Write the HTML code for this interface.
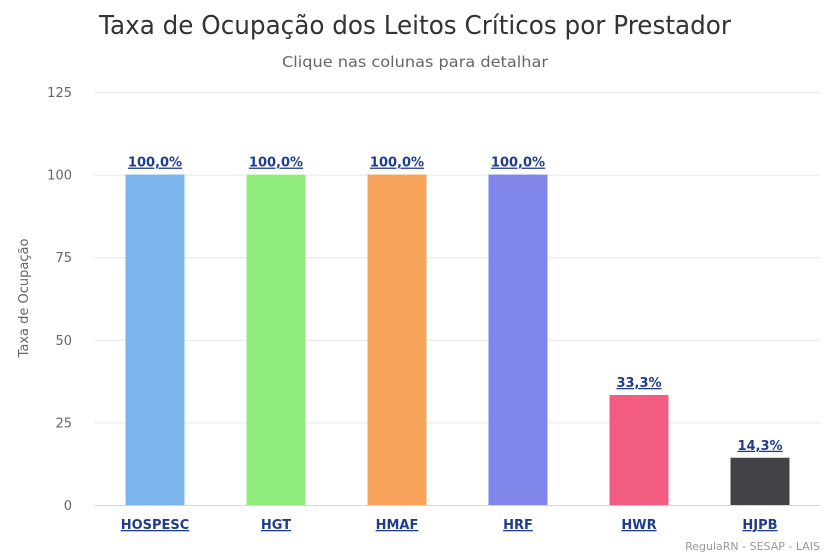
<!DOCTYPE html>
<html><head><meta charset="utf-8"><style>
html,body{margin:0;padding:0;background:#fff;}
svg{display:block;font-family:"DejaVu Sans","Liberation Sans",sans-serif;}
.lbl{cursor:pointer;}
</style></head><body>
<svg id="chart" width="828" height="555" viewBox="0 0 828 555" xmlns="http://www.w3.org/2000/svg">
<text x="415" y="34" text-anchor="middle" font-size="26" fill="#333" textLength="632" lengthAdjust="spacingAndGlyphs">Taxa de Ocupação dos Leitos Críticos por Prestador</text>
<text x="415" y="67" text-anchor="middle" font-size="15" fill="#666" textLength="266" lengthAdjust="spacingAndGlyphs">Clique nas colunas para detalhar</text>
<text transform="translate(28,298) rotate(-90)" text-anchor="middle" font-size="13" fill="#666">Taxa de Ocupação</text>
<g id="grid"></g><g id="bars"></g><g id="xlabels"></g>
<text x="820" y="550" text-anchor="end" font-size="11" fill="#999">RegulaRN - SESAP - LAIS</text>
</svg>
<script>
const categories=["HOSPESC","HGT","HMAF","HRF","HWR","HJPB"];
const values=[100,100,100,100,33.3,14.3];
const valueLabels=["100,0%","100,0%","100,0%","100,0%","33,3%","14,3%"];
const yTicks=[0,25,50,75,100,125];
const colors=["#7cb5ec","#90ed7d","#f7a35c","#8085e9","#f15c80","#434348"];
const NS="http://www.w3.org/2000/svg";
const x0=94.5,x1=820.5,yBase=505,yTop=92,yMax=125;
const band=(x1-x0)/categories.length;
function y(v){return yBase-(v/yMax)*(yBase-yTop);}
function xc(i){return x0+band*(i+0.5);}
function mk(t,a,p){const e=document.createElementNS(NS,t);for(const k in a)e.setAttribute(k,a[k]);p.appendChild(e);return e;}
const grid=document.getElementById('grid');
yTicks.forEach(t=>{
 const l=mk('line',{x1:x0,x2:x1,y1:y(t)+0.5,y2:y(t)+0.5,stroke:t===0?'#ccd6eb':'#e6e6e6','stroke-width':1},grid);
 
 
 const tx=mk('text',{x:72,y:y(t)+5,'text-anchor':'end','font-size':13,fill:'#666'},grid);
 tx.textContent=t;
 
 
});
const bars=document.getElementById('bars'),xl=document.getElementById('xlabels');
categories.forEach((c,i)=>{
 const w=59,cx=xc(i);
 const r=mk('rect',{x:cx-w/2,y:y(values[i]),width:w,height:yBase-y(values[i]),fill:colors[i],class:'lbl'},bars);
 
 
 const v=mk('text',{x:cx,y:y(values[i])-8,'text-anchor':'middle','font-size':13,'font-weight':'bold',fill:'#1f3d8c','text-decoration':'underline',class:'lbl'},bars);
 v.textContent=valueLabels[i];
 
 
 const t=mk('text',{x:cx,y:529,'text-anchor':'middle','font-size':13,'font-weight':'bold',fill:'#1f3d8c','text-decoration':'underline',class:'lbl'},xl);
 t.textContent=c;
 
 
});
</script>
</body></html>
